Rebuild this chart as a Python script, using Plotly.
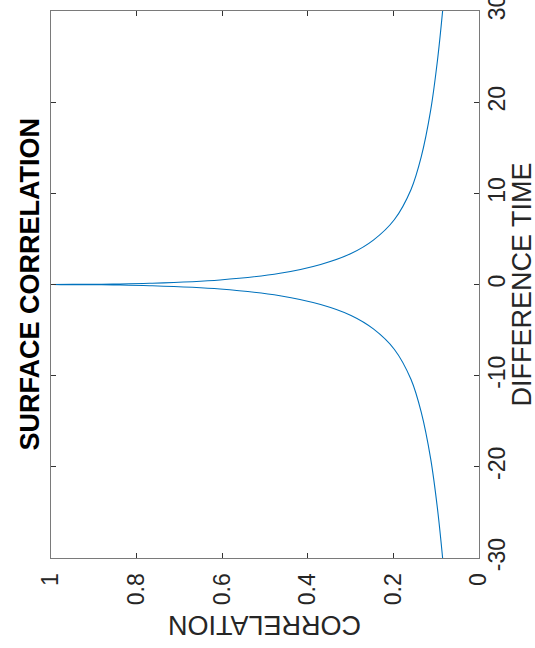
import plotly.graph_objects as go

# Surface correlation as a function of difference time
difference_time = [
    -30, -24.6, -19.1, -14.0, -10.4, -7.1, -4.9, -3.4, -2.2, -1.23,
    -0.5, -0.13, -0.05, -0.02, 0,
    0.02, 0.05, 0.13, 0.5, 1.23, 2.2, 3.4, 4.9, 7.1, 10.4,
    14.0, 19.1, 24.6, 30,
]
correlation = [
    0.085, 0.097, 0.113, 0.135, 0.159, 0.198, 0.246, 0.299, 0.370, 0.465,
    0.605, 0.770, 0.855, 0.910, 1.000,
    0.910, 0.855, 0.770, 0.605, 0.465, 0.370, 0.299, 0.246, 0.198, 0.159,
    0.135, 0.113, 0.097, 0.085,
]

corr_ticks = [0, 0.2, 0.4, 0.6, 0.8, 1]
corr_tick_text = ["0", "0.2", "0.4", "0.6", "0.8", "1"]
time_ticks = [-30, -20, -10, 0, 10, 20, 30]
time_tick_text = ["-30", "-20", "-10", "0", "10", "20", "30"]

title_text = "SURFACE CORRELATION"
x_title = "CORRELATION"
y_title = "DIFFERENCE TIME"

FONT = "Liberation Sans, Arial, Helvetica, sans-serif"
AXIS_COLOR = "#262626"

fig = go.Figure()
fig.add_trace(go.Scatter(
    x=correlation,
    y=difference_time,
    mode="lines",
    line=dict(color="#0072BD", width=1.1, shape="spline", smoothing=1.0),
    showlegend=False,
    hoverinfo="skip",
    cliponaxis=True,
))

axis_common = dict(
    showgrid=False,
    zeroline=False,
    showline=True,
    linecolor="#7a7a7a",
    linewidth=1,
    mirror="ticks",
    ticks="inside",
    ticklen=5,
    tickwidth=1,
    tickcolor="#333333",
    tickfont=dict(family=FONT, size=23, color=AXIS_COLOR),
    tickangle=-90,
    ticklabeloverflow="allow",
    automargin=False,
)

fig.update_layout(
    width=535,
    height=648,
    margin=dict(l=51, r=56, t=11, b=90, autoexpand=False),
    paper_bgcolor="white",
    plot_bgcolor="white",
    xaxis=dict(
        range=[1, 0],
        tickvals=corr_ticks,
        ticktext=corr_tick_text,
        side="bottom",
        ticklabelstandoff=5,
        **axis_common,
    ),
    yaxis=dict(
        range=[-30, 30],
        tickvals=time_ticks,
        ticktext=time_tick_text,
        side="right",
        ticklabelstandoff=-3,
        **axis_common,
    ),
    annotations=[
        dict(
            text=f"<b>{title_text}</b>",
            xref="paper", yref="paper",
            x=0, y=0.5,
            xshift=-22,
            xanchor="center", yanchor="middle",
            textangle=-90,
            showarrow=False,
            font=dict(family=FONT, size=27, color="black"),
        ),
        dict(
            text=x_title,
            xref="paper", yref="paper",
            x=0.5, y=0,
            yshift=-67,
            xanchor="center", yanchor="middle",
            textangle=180,
            showarrow=False,
            font=dict(family=FONT, size=27, color=AXIS_COLOR),
        ),
        dict(
            text=y_title,
            xref="paper", yref="paper",
            x=1, y=0.5,
            xshift=42,
            xanchor="center", yanchor="middle",
            textangle=-90,
            showarrow=False,
            font=dict(family=FONT, size=27, color=AXIS_COLOR),
        ),
    ],
)

fig.write_html("out.html")
